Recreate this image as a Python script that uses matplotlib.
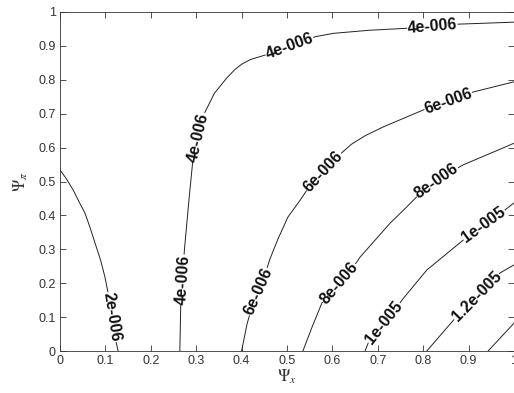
import numpy as np
import matplotlib
matplotlib.use('Agg')
from matplotlib import pyplot as plt

# contour lines (Psi_x, Psi_pi)
c2_x = [0.0, 0.013, 0.029, 0.042, 0.055, 0.066, 0.077, 0.089, 0.099, 0.106, 0.115, 0.122, 0.128]
c2_y = [0.534, 0.510, 0.475, 0.440, 0.407, 0.365, 0.319, 0.270, 0.218, 0.171, 0.100, 0.035, 0.0]

c4_x = [0.264, 0.266, 0.270, 0.274, 0.284, 0.292, 0.305, 0.318, 0.340, 0.367, 0.385, 0.400, 0.420,
        0.452, 0.505, 0.562, 0.602, 0.680, 0.764, 0.820, 0.874, 1.0]
c4_y = [0.0, 0.140, 0.210, 0.298, 0.445, 0.554, 0.630, 0.701, 0.760, 0.805, 0.830, 0.846, 0.860,
        0.873, 0.900, 0.927, 0.937, 0.946, 0.952, 0.958, 0.964, 0.970]

c6_x = [0.400, 0.412, 0.425, 0.437, 0.448, 0.462, 0.480, 0.502, 0.529, 0.544, 0.580, 0.620,
        0.642, 0.672, 0.712, 0.800, 0.855, 0.910, 1.0]
c6_y = [0.0, 0.080, 0.140, 0.175, 0.210, 0.270, 0.330, 0.395, 0.445, 0.475, 0.530, 0.584,
        0.610, 0.635, 0.661, 0.711, 0.738, 0.764, 0.794]

c8_x = [0.535, 0.555, 0.577, 0.615, 0.654, 0.661, 0.727, 0.760, 0.786, 0.830, 0.881, 0.888, 0.990, 1.0]
c8_y = [0.0, 0.070, 0.142, 0.200, 0.263, 0.277, 0.377, 0.420, 0.455, 0.500, 0.544, 0.549, 0.607, 0.613]

c10_x = [0.672, 0.679, 0.714, 0.749, 0.753, 0.808, 0.888, 0.934, 0.980, 1.0]
c10_y = [0.0, 0.024, 0.083, 0.142, 0.150, 0.239, 0.327, 0.372, 0.416, 0.437]

c12_x = [0.808, 0.866, 0.918, 0.969, 1.0]
c12_y = [0.0, 0.090, 0.160, 0.230, 0.254]

c14_x = [0.943, 1.0]
c14_y = [0.0, 0.082]

lines = [(c2_x, c2_y), (c4_x, c4_y), (c6_x, c6_y), (c8_x, c8_y),
         (c10_x, c10_y), (c12_x, c12_y), (c14_x, c14_y)]
level_text = ['2e-006', '4e-006', '6e-006', '8e-006', '1e-005', '1.2e-005', '1.4e-005']

# where the inline labels sit: (line index, x, y)
labels = [(0, 0.115, 0.100),
          (1, 0.270, 0.210), (1, 0.305, 0.630), (1, 0.505, 0.900), (1, 0.820, 0.958),
          (2, 0.437, 0.175), (2, 0.580, 0.530), (2, 0.855, 0.738),
          (3, 0.615, 0.200), (3, 0.830, 0.500),
          (4, 0.714, 0.083), (4, 0.934, 0.372),
          (5, 0.918, 0.160)]

xticks = np.round(np.arange(0, 1.01, 0.1), 1)
yticks = np.round(np.arange(0, 1.01, 0.1), 1)
tick_labels = ['0', '0.1', '0.2', '0.3', '0.4', '0.5', '0.6', '0.7', '0.8', '0.9', '1']

plt.rcParams['font.family'] = ['Liberation Sans', 'DejaVu Sans']
plt.rcParams['mathtext.fontset'] = 'stix'

fig = plt.figure(figsize=(5.14, 3.93), dpi=100)
ax = fig.add_axes([60 / 514, 42 / 393, 454 / 514, 339 / 393])
ax.set_xlim(0, 1)
ax.set_ylim(0, 1)

for xs, ys in lines:
    ax.plot(xs, ys, color='#222222', lw=0.7)

# the inline labels, rotated along the line
for idx, lx, ly in labels:
    xs, ys = lines[idx]
    pts = ax.transData.transform(np.column_stack([xs, ys]))
    p = ax.transData.transform((lx, ly))
    i = int(np.argmin(np.hypot(*(pts - p).T)))
    j0 = max(i - 1, 0)
    j1 = min(i + 1, len(pts) - 1)
    dx, dy = pts[j1] - pts[j0]
    ang = np.degrees(np.arctan2(dy, dx))
    if ang > 90:
        ang -= 180
    if ang < -90:
        ang += 180
    ax.text(xs[i], ys[i], level_text[idx], rotation=ang, rotation_mode='anchor',
            ha='center', va='center', fontsize=11.5, fontweight='bold', color='#111111',
            bbox=dict(facecolor='white', edgecolor='none', pad=0.2), zorder=3)

ax.set_xticks(xticks)
ax.set_yticks(yticks)
ax.set_xticklabels(tick_labels)
ax.set_yticklabels(tick_labels)
ax.tick_params(direction='in', length=4, width=0.6, top=True, right=True,
               labelsize=9, colors='#333333', pad=3)
for s in ax.spines.values():
    s.set_linewidth(0.6)
    s.set_color('#333333')

ax.set_xlabel(r'$\Psi_x$', fontsize=12, color='#333333', labelpad=0)
ax.set_ylabel(r'$\Psi_\pi$', fontsize=12, color='#333333', labelpad=6)

fig.savefig('out.png', dpi=100, facecolor='white')
